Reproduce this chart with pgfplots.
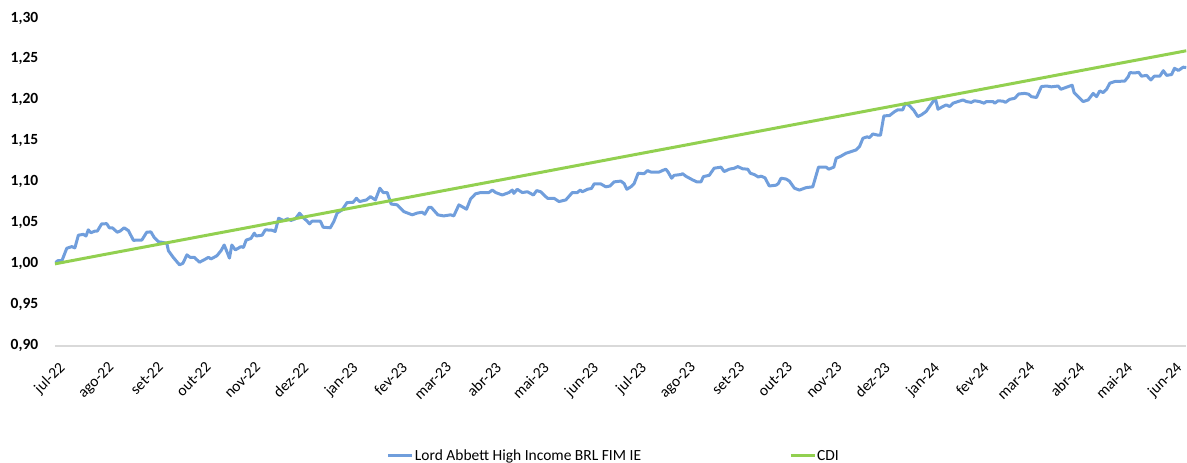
\documentclass[border=0pt]{standalone}
\usepackage{fontspec}
\setmainfont{Carlito}
\usepackage{pgfplots}
\usepackage{pgfplotstable}
\pgfplotsset{compat=1.18}
\definecolor{lordblue}{RGB}{112,158,220}
\definecolor{cdigreen}{RGB}{146,208,80}
\definecolor{axisgray}{RGB}{217,217,217}

\pgfplotstableread{
d v
0 1.001
1.9 1.004
4.4 1.004
7.4 1.019
10.5 1.021
12.5 1.0195
14.7 1.035
17.8 1.036
19.5 1.034
20.9 1.0415
22.5 1.038
25.2 1.040
26.6 1.040
29.3 1.0488
32.5 1.049
34.1 1.044
36.0 1.044
39.1 1.0386
40.9 1.040
43.4 1.044
46.1 1.0405
49.3 1.0285
50.9 1.029
54.5 1.029
57.6 1.0386
60.2 1.039
62.2 1.0325
64.9 1.027
68.1 1.026
70.2 1.025
71.2 1.016
74.3 1.0077
78.2 0.9988
80.3 1.0007
82.8 1.011
84.8 1.008
87.4 1.008
90.7 1.002
93.2 1.0045
96.4 1.008
97.9 1.006
101.6 1.0098
104.2 1.016
106.2 1.023
107.9 1.015
109.5 1.007
111.0 1.023
113.2 1.017
116.7 1.021
118.3 1.020
120.0 1.029
123.0 1.031
125.1 1.0374
126.3 1.034
130.0 1.035
132.0 1.0415
136.2 1.041
138.2 1.0395
140.4 1.0557
143.5 1.0528
146.0 1.055
148.2 1.053
150.9 1.055
153.5 1.0618
156.0 1.056
157.8 1.053
159.8 1.0488
161.3 1.052
166.6 1.052
168.3 1.0447
172.8 1.044
175.0 1.0516
177.1 1.062
180.2 1.0658
183.3 1.0748
187.1 1.075
189.2 1.080
191.2 1.076
195.5 1.078
198.0 1.082
201.1 1.078
203.9 1.0923
206.0 1.087
208.5 1.087
211.0 1.073
214.8 1.072
218.9 1.0638
224.2 1.0598
227.3 1.062
230.5 1.063
232.1 1.0605
234.6 1.069
236.1 1.069
240.3 1.0598
244.0 1.0585
248.3 1.0598
250.3 1.0585
253.5 1.072
258.3 1.0667
260.8 1.079
263.9 1.0854
267.1 1.087
272.3 1.087
274.5 1.090
276.6 1.087
280.7 1.084
284.9 1.087
287.0 1.090
288.0 1.086
290.1 1.091
293.3 1.087
296.5 1.088
300.3 1.084
302.3 1.0894
304.8 1.088
309.1 1.080
313.2 1.080
316.3 1.076
320.6 1.078
324.7 1.087
327.9 1.087
329.6 1.090
331.0 1.088
334.2 1.091
336.7 1.092
338.4 1.0976
342.5 1.0976
345.7 1.094
348.4 1.095
350.9 1.100
355.1 1.101
357.2 1.098
358.9 1.091
361.4 1.094
363.5 1.098
366.0 1.1106
369.7 1.110
371.9 1.1138
374.0 1.112
379.2 1.112
381.4 1.114
383.4 1.1155
384.8 1.112
387.0 1.1045
388.6 1.108
392.8 1.109
393.9 1.110
395.9 1.107
400.2 1.1024
402.9 1.100
405.4 1.100
407.0 1.1065
410.6 1.108
413.7 1.1167
418.0 1.118
420.0 1.1126
423.2 1.1155
426.4 1.1167
428.5 1.1187
431.6 1.116
434.8 1.1155
436.4 1.1106
438.9 1.109
441.4 1.106
443.2 1.107
445.6 1.105
448.3 1.095
452.6 1.096
454.0 1.098
455.7 1.1045
458.8 1.1035
460.9 1.101
464.1 1.0923
467.2 1.090
471.4 1.093
475.6 1.094
479.2 1.118
484.0 1.118
485.6 1.1155
488.8 1.118
490.3 1.1289
492.9 1.131
496.5 1.135
499.7 1.137
502.8 1.139
504.9 1.143
507.1 1.1533
509.7 1.155
511.2 1.154
513.3 1.1585
516.5 1.157
518.1 1.157
520.2 1.1805
523.8 1.181
526.9 1.1857
529.0 1.188
532.1 1.188
533.7 1.196
536.3 1.193
539.1 1.187
541.5 1.1797
543.7 1.1817
546.8 1.186
548.9 1.192
552.5 1.202
554.2 1.1887
557.3 1.192
559.3 1.194
561.5 1.192
563.6 1.196
566.7 1.198
569.9 1.200
572.0 1.198
575.1 1.197
577.1 1.199
580.3 1.198
583.1 1.196
584.5 1.198
588.8 1.198
589.8 1.196
591.9 1.199
595.0 1.1985
596.5 1.197
599.2 1.2008
602.3 1.202
604.9 1.2073
608.6 1.208
611.1 1.207
612.8 1.204
616.0 1.203
619.1 1.2163
622.3 1.217
625.4 1.216
629.6 1.217
631.3 1.213
634.8 1.2155
638.4 1.218
639.6 1.209
642.2 1.204
645.3 1.198
648.4 1.200
651.6 1.208
653.7 1.204
655.7 1.211
657.9 1.209
660.0 1.213
662.0 1.2204
665.1 1.2225
671.4 1.223
673.6 1.2284
674.6 1.2333
677.8 1.233
680.2 1.2337
681.9 1.229
685.1 1.230
687.8 1.2244
689.9 1.229
693.4 1.229
695.6 1.2357
697.7 1.230
700.8 1.231
702.6 1.2386
705.1 1.236
708.1 1.240
710.0 1.2395
}\lordtable

\pgfplotstableread{
d v
0 1.0000
31 1.0114
62 1.0227
92 1.0337
123 1.0450
153 1.0560
184 1.0674
215 1.0787
243 1.0890
274 1.1003
304 1.1113
335 1.1227
365 1.1337
396 1.1450
427 1.1564
457 1.1674
488 1.1787
518 1.1897
549 1.2010
580 1.2124
609 1.2230
640 1.2344
670 1.2454
701 1.2567
710 1.2600
}\cditable

\begin{document}
\begin{tikzpicture}
\begin{axis}[
  scale only axis, width=1132pt, height=328pt,
  at={(0pt,0pt)}, anchor=south west,
  xmin=0, xmax=710, ymin=0.9, ymax=1.3,
  axis x line*=bottom, axis y line*=left,
  x axis line style={draw=axisgray, line width=1.5pt},
  y axis line style={draw=none},
  major tick length=0pt,
  ytick={0.90,0.95,1.00,1.05,1.10,1.15,1.20,1.25,1.30},
  /pgf/number format/use comma,
  /pgf/number format/fixed,
  /pgf/number format/fixed zerofill,
  /pgf/number format/precision=2,
  /pgf/number format/assume math mode=true,
  yticklabel style={font=\fontsize{15.5}{18}\selectfont\bfseries, inner sep=0pt, xshift=-16.5pt},
  xtick={0,31,62,92,123,153,184,215,243,274,304,335,365,396,427,457,488,518,549,580,609,640,670,701},
  xticklabels={jul-22,ago-22,set-22,out-22,nov-22,dez-22,jan-23,fev-23,mar-23,abr-23,mai-23,jun-23,jul-23,ago-23,set-23,out-23,nov-23,dez-23,jan-24,fev-24,mar-24,abr-24,mai-24,jun-24},
  xticklabel style={font=\fontsize{15.5}{18}\selectfont, inner sep=0pt, xshift=3pt, yshift=-15pt, rotate=45, anchor=north east},
  legend columns=2,
  legend style={at={(0.2933,-0.3354)}, anchor=west, draw=none, fill=none, inner sep=0pt,
    font=\fontsize{15.5}{18}\selectfont,
    /tikz/every even column/.append style={column sep=147pt},
    nodes={inner sep=1pt}},
  legend image code/.code={\draw[#1] (0pt,0pt) -- (24pt,0pt);},
]
\addplot[color=lordblue, line width=3pt, line join=round] table {\lordtable};
\addlegendentry{Lord Abbett High Income BRL FIM IE}
\addplot[color=cdigreen, line width=3pt] table {\cditable};
\addlegendentry{CDI}
\end{axis}
\useasboundingbox (-55pt,-117pt) rectangle (1132pt,346pt);
\end{tikzpicture}
\end{document}
